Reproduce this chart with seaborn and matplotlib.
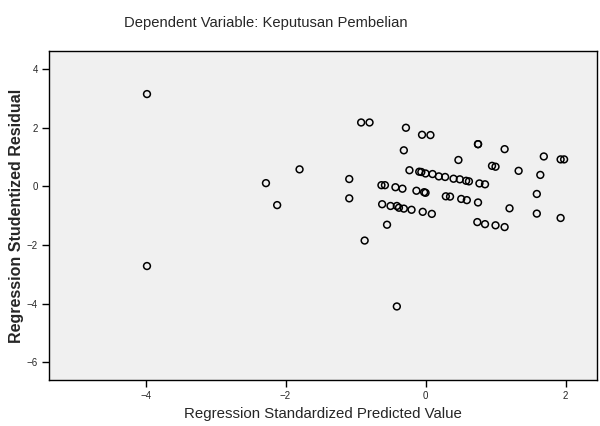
import matplotlib
matplotlib.use("Agg")
import matplotlib.pyplot as plt
import seaborn as sns
import pandas as pd

predicted = [
    -3.98, -3.98, -2.28, -1.80, -2.12, -1.09, -1.09, -0.92, -0.80, -0.63,
    -0.58, -0.43, -0.62, -0.50, -0.41, -0.55, -0.87, -0.41, -0.28, -0.05,
    0.07, -0.31, 0.75, 0.75, 1.13, 1.69, 1.93, 1.98, 0.47, 0.95,
    1.00, 1.33, 1.64, -0.23, -0.09, -0.06, 0.00, 0.10, 0.19, 0.28,
    0.40, 0.49, 0.58, 0.62, 0.77, 0.85, -0.33, -0.13, -0.02, 0.00,
    0.29, 0.35, 0.51, 0.59, 0.75, 1.20, 1.59, 1.59, 1.93, 0.74,
    0.85, 1.00, 1.13, -0.38, -0.31, -0.20, -0.04, 0.09,
]
residual = [
    3.15, -2.72, 0.11, 0.58, -0.64, 0.25, -0.41, 2.18, 2.18, 0.04,
    0.04, -0.03, -0.61, -0.67, -0.67, -1.31, -1.85, -4.10, 2.00, 1.76,
    1.75, 1.23, 1.44, 1.44, 1.27, 1.02, 0.92, 0.92, 0.90, 0.70,
    0.67, 0.53, 0.39, 0.55, 0.50, 0.49, 0.44, 0.42, 0.34, 0.32,
    0.26, 0.24, 0.19, 0.17, 0.10, 0.07, -0.08, -0.15, -0.20, -0.22,
    -0.34, -0.35, -0.43, -0.47, -0.55, -0.75, -0.26, -0.93, -1.08, -1.22,
    -1.29, -1.33, -1.39, -0.73, -0.76, -0.80, -0.87, -0.94,
]

x_ticks = [-4, -2, 0, 2]
y_ticks = [-6, -4, -2, 0, 2, 4]

TITLE = "Dependent Variable: Keputusan Pembelian"
X_LABEL = "Regression Standardized Predicted Value"
Y_LABEL = "Regression Studentized Residual"

# ── Plot ─────────────────────────────────────────────────────────────────────

sns.set_style("ticks")
plt.rcParams["font.family"] = ["Liberation Sans", "DejaVu Sans"]

df = pd.DataFrame({"predicted": predicted, "residual": residual})

fig = plt.figure(figsize=(6, 4.26), dpi=100)
ax = fig.add_axes([49 / 600, 46 / 426, 548 / 600, 329 / 426])
ax.set_facecolor("#f0f0f0")

sns.scatterplot(
    data=df, x="predicted", y="residual", ax=ax,
    marker="o", s=24, facecolor="none", edgecolor="black", linewidth=1.1,
)

ax.set_xlim(-5.38, 2.45)
ax.set_ylim(-6.61, 4.62)
ax.set_xticks(x_ticks)
ax.set_yticks(y_ticks)
ax.tick_params(direction="out", length=5, width=1, labelsize=7, pad=3, color="black")

for side in ["left", "right", "top", "bottom"]:
    ax.spines[side].set_visible(True)
    ax.spines[side].set_color("black")
    ax.spines[side].set_linewidth(1.0)

ax.set_xlabel(X_LABEL, fontsize=10.8, labelpad=4)
ax.set_ylabel(Y_LABEL, fontsize=11.5, fontweight="bold", labelpad=2)

fig.text(266 / 600, 1 - 23 / 426, TITLE, ha="center", va="center", fontsize=10.6)

fig.savefig("out.png", dpi=100)
